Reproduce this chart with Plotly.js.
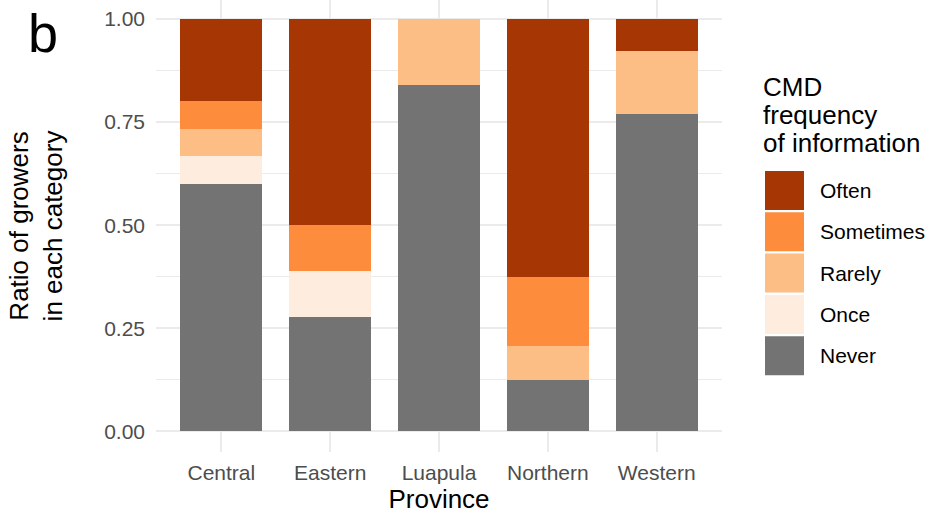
<!DOCTYPE html>
<html>
<head>
<meta charset="utf-8">
<script src="https://cdn.plot.ly/plotly-3.0.1.min.js"></script>
<style>html,body{margin:0;padding:0;background:#fff;}#chart{width:930px;height:515px;}</style>
</head>
<body>
<div id="chart"></div>
<script>
// ---- data ----
const provinces = ['Central', 'Eastern', 'Luapula', 'Northern', 'Western'];
const never     = [0.600, 0.278, 0.840, 0.125, 0.769];
const once      = [0.0667, 0.111, 0.000, 0.000, 0.000];
const rarely    = [0.0667, 0.000, 0.160, 0.083, 0.154];
const sometimes = [0.0667, 0.111, 0.000, 0.167, 0.000];
const often     = [0.200, 0.500, 0.000, 0.625, 0.077];
const yTickVals = [0, 0.25, 0.5, 0.75, 1.0];
const yTickText = ['0.00', '0.25', '0.50', '0.75', '1.00'];
const seriesNames = ['Never', 'Once', 'Rarely', 'Sometimes', 'Often'];
const seriesColors = ['#737373', '#feedde', '#fdbe85', '#fd8d3c', '#a63603'];
const seriesValues = [never, once, rarely, sometimes, often];

// ---- layout geometry (pixels) ----
const W = 930, H = 515;
const mL = 156, mR = 208, mT = 0, mB = 63;
const pw = W - mL - mR, ph = H - mT - mB;
const px = x => (x - mL) / pw;          // pixel -> paper x
const py = y => (H - mB - y) / ph;      // pixel -> paper y

const font = 'Liberation Sans, Arial, sans-serif';

const traces = seriesNames.map((n, i) => ({
  type: 'bar',
  name: n,
  x: provinces,
  y: seriesValues[i],
  marker: {color: seriesColors[i], line: {width: 0}},
  showlegend: false,
  hoverinfo: 'skip'
}));

// custom legend (ggplot style large keys)
const shapes = [];
const annotations = [];
const legendOrder = [4, 3, 2, 1, 0];
const keyTop = 171, keyPitch = 41.3, keySize = 39, keyLeft = 765;
legendOrder.forEach((si, k) => {
  const top = keyTop + k * keyPitch;
  shapes.push({
    type: 'rect', xref: 'paper', yref: 'paper',
    x0: px(keyLeft), x1: px(keyLeft + keySize),
    y0: py(top + keySize), y1: py(top),
    fillcolor: seriesColors[si], line: {width: 0}, layer: 'above'
  });
  annotations.push({
    xref: 'paper', yref: 'paper', x: px(818), y: py(top + keySize / 2),
    xanchor: 'left', yanchor: 'middle', showarrow: false,
    text: seriesNames[si], font: {family: font, size: 21, color: '#000'}
  });
});
const legendTitleLines = ['CMD', 'frequency', 'of information'];
const legendTitleBaselines = [96, 124, 152];
legendTitleLines.forEach((t, i) => {
  annotations.push({
    xref: 'paper', yref: 'paper', x: px(761), y: py(legendTitleBaselines[i] - 9),
    xanchor: 'left', yanchor: 'middle', showarrow: false,
    text: t, font: {family: font, size: 26, color: '#000'}
  });
});
// panel tag
annotations.push({
  xref: 'paper', yref: 'paper', x: px(26), y: py(0.5),
  xanchor: 'left', yanchor: 'top', showarrow: false,
  text: 'b', font: {family: font, size: 54, color: '#000'}
});

const layout = {
  width: W, height: H,
  margin: {l: mL, r: mR, t: mT, b: mB, pad: 0},
  paper_bgcolor: '#fff', plot_bgcolor: '#fff',
  barmode: 'stack',
  bargap: 0.25,
  showlegend: false,
  font: {family: font},
  xaxis: {
    type: 'category',
    range: [-0.6, 4.6],
    showgrid: true, gridcolor: '#ebebeb', gridwidth: 2,
    zeroline: false, showline: false, ticks: '',
    tickfont: {family: font, size: 21, color: '#4d4d4d'},
    ticklabelstandoff: 6,
    title: {text: 'Province', font: {family: font, size: 26, color: '#000'}, standoff: 6},
    automargin: false, fixedrange: true
  },
  yaxis: {
    range: [-0.05, 1.046],
    tickvals: yTickVals, ticktext: yTickText,
    showgrid: true, gridcolor: '#ebebeb', gridwidth: 2,
    minor: {dtick: 0.125, tick0: 0.125, showgrid: true, gridcolor: '#ebebeb', gridwidth: 1, ticks: ''},
    zeroline: false, showline: false, ticks: '',
    tickfont: {family: font, size: 21, color: '#4d4d4d'},
    ticklabelstandoff: 10,
    title: {text: 'Ratio of growers<br>in each category', font: {family: font, size: 26, color: '#000'}, standoff: 34},
    automargin: false, fixedrange: true
  },
  shapes: shapes,
  annotations: annotations,
  hovermode: false
};

Plotly.newPlot('chart', traces, layout, {staticPlot: true, displayModeBar: false});
</script>
</body>
</html>
